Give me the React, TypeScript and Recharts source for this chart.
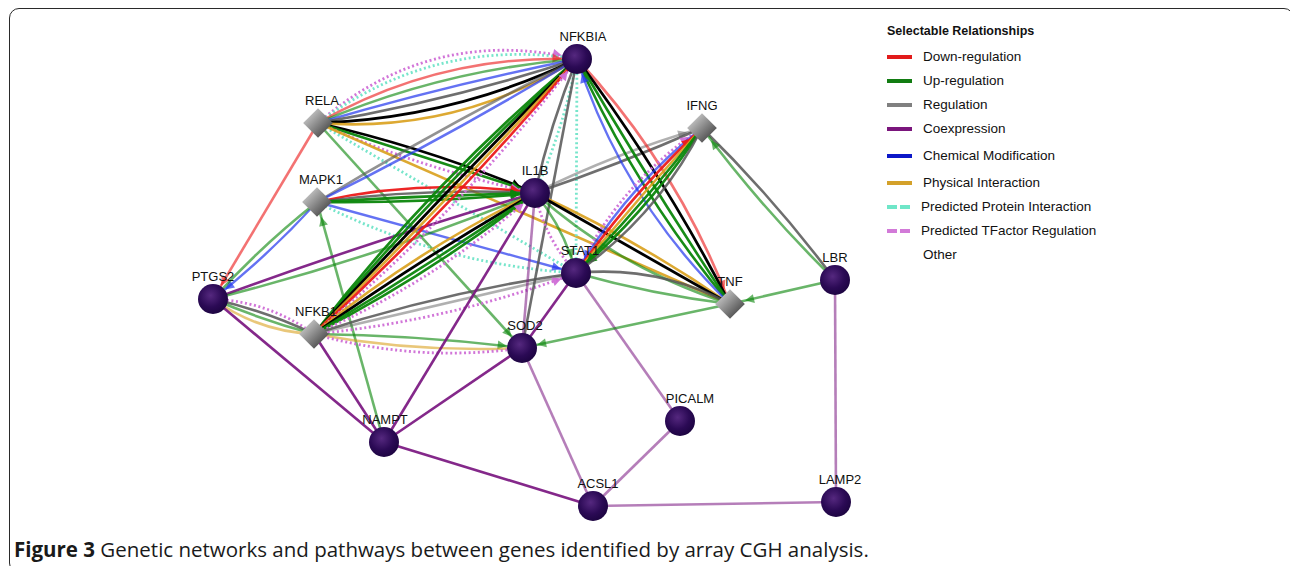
import React from 'react';
import { ScatterChart, Scatter, XAxis, YAxis, ReferenceLine, Legend } from 'recharts';

const W = 1290;
const H = 566;

// gene layout, in network coordinates
const genes = ['NFKBIA', 'RELA', 'IFNG', 'MAPK1', 'IL1B', 'STAT1', 'PTGS2', 'NFKB1', 'SOD2', 'TNF', 'LBR', 'NAMPT', 'PICALM', 'ACSL1', 'LAMP2'];
const geneX = [577, 318, 702, 317, 535, 576, 213, 314, 522, 730, 835, 384, 680, 593, 836];
const geneY = [59, 123, 128, 202, 193, 273, 299, 334, 348, 304, 280, 442, 421, 506, 502];
const diamondGenes = ['RELA', 'IFNG', 'MAPK1', 'NFKB1', 'TNF'];

// relationships: from, to, relation, confidence, directed
type Edge = [string, string, string, number, boolean];
const edges: Edge[] = [
  ['RELA', 'NFKBIA', 'tf', 1, true],
  ['RELA', 'NFKBIA', 'ppi', 1, false],
  ['RELA', 'NFKBIA', 'down', 0.6, true],
  ['RELA', 'NFKBIA', 'up', 0.6, false],
  ['RELA', 'NFKBIA', 'chem', 1, false],
  ['RELA', 'NFKBIA', 'reg', 1, false],
  ['RELA', 'NFKBIA', 'other', 1, false],
  ['RELA', 'NFKBIA', 'phys', 1, false],
  ['RELA', 'PTGS2', 'down', 0.6, true],
  ['RELA', 'IL1B', 'other', 1, true],
  ['RELA', 'IL1B', 'up', 1, true],
  ['RELA', 'IL1B', 'tf', 1, true],
  ['RELA', 'SOD2', 'up', 0.6, true],
  ['RELA', 'STAT1', 'ppi', 1, false],
  ['RELA', 'TNF', 'phys', 1, false],
  ['MAPK1', 'NFKBIA', 'reg', 0.7, false],
  ['MAPK1', 'NFKBIA', 'chem', 1, false],
  ['MAPK1', 'IL1B', 'down', 1, true],
  ['MAPK1', 'IL1B', 'reg', 1, false],
  ['MAPK1', 'IL1B', 'up', 1, true],
  ['MAPK1', 'IL1B', 'up', 1, true],
  ['MAPK1', 'STAT1', 'chem', 1, true],
  ['MAPK1', 'STAT1', 'ppi', 1, false],
  ['MAPK1', 'PTGS2', 'chem', 1, true],
  ['MAPK1', 'PTGS2', 'up', 0.6, false],
  ['NAMPT', 'MAPK1', 'up', 0.6, true],
  ['PTGS2', 'IL1B', 'coex', 1, false],
  ['PTGS2', 'IL1B', 'up', 0.6, false],
  ['PTGS2', 'NFKB1', 'tf', 1, false],
  ['PTGS2', 'NFKB1', 'reg', 1, false],
  ['PTGS2', 'NFKB1', 'up', 0.6, false],
  ['PTGS2', 'NFKB1', 'phys', 0.6, false],
  ['PTGS2', 'NAMPT', 'coex', 1, false],
  ['NFKB1', 'NFKBIA', 'up', 1, false],
  ['NFKB1', 'NFKBIA', 'up', 1, false],
  ['NFKB1', 'NFKBIA', 'other', 1, false],
  ['NFKB1', 'NFKBIA', 'phys', 1, false],
  ['NFKB1', 'NFKBIA', 'down', 1, false],
  ['NFKB1', 'NFKBIA', 'tf', 1, true],
  ['NFKB1', 'IL1B', 'phys', 1, false],
  ['NFKB1', 'IL1B', 'other', 1, false],
  ['NFKB1', 'IL1B', 'up', 1, false],
  ['NFKB1', 'IL1B', 'up', 1, false],
  ['NFKB1', 'IL1B', 'tf', 1, true],
  ['NFKB1', 'STAT1', 'reg', 1, false],
  ['NFKB1', 'STAT1', 'reg', 0.5, false],
  ['NFKB1', 'STAT1', 'tf', 1, true],
  ['NFKB1', 'SOD2', 'up', 0.6, true],
  ['NFKB1', 'SOD2', 'phys', 0.6, false],
  ['NFKB1', 'SOD2', 'tf', 1, false],
  ['NFKB1', 'NAMPT', 'coex', 1, false],
  ['IL1B', 'NFKBIA', 'reg', 1, false],
  ['IL1B', 'NFKBIA', 'ppi', 1, false],
  ['SOD2', 'NFKBIA', 'reg', 1, false],
  ['STAT1', 'NFKBIA', 'ppi', 1, false],
  ['IL1B', 'IFNG', 'reg', 0.5, true],
  ['IL1B', 'IFNG', 'reg', 1, false],
  ['IL1B', 'STAT1', 'up', 0.6, true],
  ['IL1B', 'STAT1', 'tf', 1, false],
  ['IL1B', 'TNF', 'phys', 1, false],
  ['IL1B', 'TNF', 'other', 1, false],
  ['IL1B', 'TNF', 'up', 0.6, false],
  ['IL1B', 'SOD2', 'coex', 0.55, false],
  ['IL1B', 'NAMPT', 'coex', 1, false],
  ['NFKBIA', 'TNF', 'down', 0.6, true],
  ['NFKBIA', 'TNF', 'other', 1, false],
  ['NFKBIA', 'TNF', 'up', 1, false],
  ['NFKBIA', 'TNF', 'up', 1, false],
  ['TNF', 'NFKBIA', 'chem', 1, true],
  ['STAT1', 'IFNG', 'tf', 1, true],
  ['IFNG', 'STAT1', 'chem', 1, true],
  ['STAT1', 'IFNG', 'down', 1, true],
  ['STAT1', 'IFNG', 'phys', 1, false],
  ['IFNG', 'STAT1', 'up', 1, true],
  ['IFNG', 'STAT1', 'up', 1, true],
  ['STAT1', 'IFNG', 'reg', 1, false],
  ['STAT1', 'TNF', 'reg', 1, false],
  ['STAT1', 'TNF', 'up', 0.6, false],
  ['STAT1', 'SOD2', 'coex', 1, false],
  ['STAT1', 'PICALM', 'coex', 0.55, false],
  ['IFNG', 'LBR', 'reg', 1, false],
  ['LBR', 'IFNG', 'up', 0.6, true],
  ['TNF', 'SOD2', 'up', 0.6, true],
  ['LBR', 'TNF', 'up', 0.6, true],
  ['SOD2', 'NAMPT', 'coex', 1, false],
  ['SOD2', 'ACSL1', 'coex', 0.55, false],
  ['NAMPT', 'ACSL1', 'coex', 1, false],
  ['PICALM', 'ACSL1', 'coex', 0.55, false],
  ['ACSL1', 'LAMP2', 'coex', 0.55, false],
  ['LBR', 'LAMP2', 'coex', 0.55, false],
];

const legendTitle = 'Selectable Relationships';
const legendKeys = ['down', 'up', 'reg', 'coex', 'chem', 'phys', 'ppi', 'tf', 'other'];
const legendLabels = [
  'Down-regulation',
  'Up-regulation',
  'Regulation',
  'Coexpression',
  'Chemical Modification',
  'Physical Interaction',
  'Predicted Protein Interaction',
  'Predicted TFactor Regulation',
  'Other',
];

// ---- styles ----
const relStyle: Record<string, { stroke: string; width: number; opacity: number; dash?: string }> = {
  down: { stroke: '#ec1a1a', width: 2.6, opacity: 0.95 },
  up: { stroke: '#0b860b', width: 2.6, opacity: 0.95 },
  reg: { stroke: '#555555', width: 2.6, opacity: 0.85 },
  coex: { stroke: '#7a1680', width: 2.6, opacity: 0.92 },
  chem: { stroke: '#2236ee', width: 2.4, opacity: 0.7 },
  phys: { stroke: '#d9a01c', width: 2.6, opacity: 0.9 },
  ppi: { stroke: '#70e4c8', width: 2.8, opacity: 0.95, dash: '2 2.6' },
  tf: { stroke: '#cf6ed6', width: 2.8, opacity: 0.95, dash: '2 2.6' },
  other: { stroke: '#000000', width: 2.8, opacity: 1 },
};
const swatchColor: Record<string, string> = {
  down: '#e21b1b',
  up: '#127c12',
  reg: '#808080',
  coex: '#7a157c',
  chem: '#0c18c8',
  phys: '#d4a12a',
  ppi: '#6fe6c8',
  tf: '#d27ad8',
};
const rowGap = [25, 24, 24, 24, 29, 25, 24, 24, 24];

// curvature (px at mid-edge) for each parallel bundle, in listed order
const pairBend: Record<string, number[]> = {
  'RELA|NFKBIA': [34, 28, 19, 11, 3, -5, -14, -22],
  'NFKB1|NFKBIA': [10, 6, 2, -2, -6, -11],
  'NFKB1|IL1B': [8, 3, -2, -6, -11],
  'NFKB1|STAT1': [6, 0, -9],
  'NFKB1|SOD2': [3, -6, -11],
  'PTGS2|NFKB1': [8, 3, -2, -8],
  'MAPK1|IL1B': [10, 5, 1, -3],
  'MAPK1|NFKBIA': [3, -3],
  'MAPK1|STAT1': [0, -14],
  'MAPK1|PTGS2': [3, -3],
  'RELA|IL1B': [5, 0, -6],
  'PTGS2|IL1B': [3, -6],
  'IL1B|NFKBIA': [3, -4],
  'IL1B|IFNG': [4, -2],
  'IL1B|STAT1': [5, -6],
  'IL1B|TNF': [5, 0, -12],
  'NFKBIA|TNF': [14, 6, -2, -10, -18],
  'STAT1|IFNG': [13, 9, 5, 1, -3, -7, -12],
  'STAT1|TNF': [12, -3],
  'IFNG|LBR': [4, -4],
};
const labelShift: Record<string, number> = {
  NFKBIA: 6, RELA: 4, MAPK1: 4, STAT1: 4, NFKB1: 2, SOD2: 3, NAMPT: 1, PICALM: 10, ACSL1: 5, LAMP2: 4,
};

const nodes = genes.map((name, i) => ({
  name,
  x: geneX[i],
  y: geneY[i],
  kind: diamondGenes.includes(name) ? 'diamond' : 'circle',
}));
const pos = (name: string) => nodes.find((n) => n.name === name)!;

// group parallel edges by pair, first listed direction is the reference direction
const pairOrder: Record<string, string> = {};
const pairCount: Record<string, number> = {};
const edgeDraw = edges.map(([from, to, rel, w, directed]) => {
  const k1 = `${from}|${to}`;
  const k2 = `${to}|${from}`;
  const key = pairOrder[k1] ? k1 : pairOrder[k2] ? k2 : k1;
  pairOrder[key] = key;
  const idx = pairCount[key] ?? 0;
  pairCount[key] = idx + 1;
  const [a, b] = key.split('|');
  return { a, b, rel, w, arrowAtB: directed && to === b, arrowAtA: directed && to === a, key, idx, bend: 0 };
});
edgeDraw.forEach((e) => {
  const n = pairCount[e.key];
  const list = pairBend[e.key];
  e.bend = list ? list[e.idx] ?? 0 : ((n - 1) / 2 - e.idx) * 5;
});

const arrowHead = (tx: number, ty: number, fx: number, fy: number, color: string, op: number) => {
  const dx = tx - fx;
  const dy = ty - fy;
  const len = Math.hypot(dx, dy) || 1;
  const ux = dx / len;
  const uy = dy / len;
  const tipX = tx - ux * 15.5;
  const tipY = ty - uy * 15.5;
  const bx = tipX - ux * 9;
  const by = tipY - uy * 9;
  const pts = `${tipX},${tipY} ${bx - uy * 4.5},${by + ux * 4.5} ${bx + uy * 4.5},${by - ux * 4.5}`;
  return <polygon points={pts} fill={color} fillOpacity={op} />;
};

const makeEdgeShape = (e: (typeof edgeDraw)[number]) => (p: any) => {
  const { x1, y1, x2, y2 } = p;
  const st = relStyle[e.rel];
  const dx = x2 - x1;
  const dy = y2 - y1;
  const len = Math.hypot(dx, dy) || 1;
  const nx = dy / len;
  const ny = -dx / len;
  const cx = (x1 + x2) / 2 + nx * 2 * e.bend;
  const cy = (y1 + y2) / 2 + ny * 2 * e.bend;
  const op = st.opacity * (e.w < 1 ? e.w + 0.05 : 1);
  return (
    <g>
      <path
        d={`M${x1},${y1} Q${cx},${cy} ${x2},${y2}`}
        fill="none"
        stroke={st.stroke}
        strokeWidth={st.width}
        strokeOpacity={op}
        strokeDasharray={st.dash}
      />
      {e.arrowAtB && arrowHead(x2, y2, cx, cy, st.stroke, op)}
      {e.arrowAtA && arrowHead(x1, y1, cx, cy, st.stroke, op)}
    </g>
  );
};

const renderGene = (props: any) => {
  const { cx, cy, payload } = props;
  const dx = labelShift[payload.name] ?? 0;
  return (
    <g>
      <defs>
        <radialGradient id="geneFill" cx="0.42" cy="0.38" r="0.65">
          <stop offset="0" stopColor="#55287f" />
          <stop offset="0.6" stopColor="#2b0a55" />
          <stop offset="1" stopColor="#1c0440" />
        </radialGradient>
        <linearGradient id="diamondFill" x1="0" y1="0" x2="1" y2="0">
          <stop offset="0" stopColor="#b8b8b8" />
          <stop offset="1" stopColor="#5a5a5a" />
        </linearGradient>
      </defs>
      {payload.kind === 'diamond' ? (
        <rect
          x={cx - 10.5}
          y={cy - 10.5}
          width={21}
          height={21}
          fill="url(#diamondFill)"
          transform={`rotate(45 ${cx} ${cy})`}
        />
      ) : (
        <circle cx={cx} cy={cy} r={15} fill="url(#geneFill)" />
      )}
      <text x={cx + dx} y={cy - 18} textAnchor="middle" fontSize={13} fill="#111">
        {payload.name}
      </text>
    </g>
  );
};

const renderLegend = () => (
  <div style={{ fontFamily: '"Liberation Sans", Arial, sans-serif', color: '#111' }}>
    <div style={{ fontWeight: 'bold', fontSize: 12.5, height: 26, lineHeight: '26px' }}>{legendTitle}</div>
    {legendKeys.map((k, i) => {
      const dashed = relStyle[k].dash;
      return (
        <div key={k} style={{ position: 'relative', height: rowGap[i], lineHeight: `${rowGap[i]}px`, fontSize: 13.5 }}>
          {swatchColor[k] && !dashed && (
            <span style={{ position: 'absolute', left: 0, top: rowGap[i] / 2 - 2, width: 25, height: 4, background: swatchColor[k] }} />
          )}
          {dashed && (
            <>
              <span style={{ position: 'absolute', left: 0, top: rowGap[i] / 2 - 2, width: 10, height: 4, background: swatchColor[k] }} />
              <span style={{ position: 'absolute', left: 13, top: rowGap[i] / 2 - 2, width: 10, height: 4, background: swatchColor[k] }} />
            </>
          )}
          <span style={{ position: 'absolute', left: dashed ? 34 : 36, top: 0, whiteSpace: 'nowrap' }}>{legendLabels[i]}</span>
        </div>
      );
    })}
  </div>
);

export default function App() {
  return (
    <div style={{ position: 'relative', width: W, height: H, overflow: 'hidden', background: '#fff' }}>
      <style>{'body{margin:0;overflow:hidden}'}</style>
      <div
        style={{
          position: 'absolute',
          left: 9,
          top: 8,
          width: 1285,
          height: 565,
          border: '1.6px solid #2a2a2a',
          borderRadius: 10,
          boxSizing: 'border-box',
        }}
      />
      <div style={{ position: 'absolute', left: 0, top: 0 }}>
        <ScatterChart
          width={W}
          height={H}
          margin={{ top: 0, right: 0, bottom: 0, left: 0 }}
          style={{ fontFamily: '"Liberation Sans", Arial, sans-serif' }}
        >
          <XAxis type="number" dataKey="x" domain={[0, W]} allowDataOverflow hide />
          <YAxis type="number" dataKey="y" domain={[0, H]} allowDataOverflow reversed hide />
          {edgeDraw.map((e, i) => {
            const A = pos(e.a);
            const B = pos(e.b);
            return (
              <ReferenceLine
                key={i}
                segment={[
                  { x: A.x, y: A.y },
                  { x: B.x, y: B.y },
                ]}
                ifOverflow="visible"
                shape={makeEdgeShape(e)}
              />
            );
          })}
          <Scatter data={nodes} shape={renderGene} isAnimationActive={false} />
          <Legend
            layout="horizontal"
            verticalAlign="middle"
            align="center"
            content={renderLegend}
            wrapperStyle={{ left: 887, top: 18, width: 300, height: 260 }}
          />
        </ScatterChart>
      </div>
      <div
        style={{
          position: 'absolute',
          left: 14,
          top: 535,
          fontFamily: '"Open Sans", sans-serif',
          fontSize: 20.5,
          color: '#1a1a1a',
          whiteSpace: 'nowrap',
        }}
      >
        <b>Figure 3</b> Genetic networks and pathways between genes identified by array CGH analysis.
      </div>
    </div>
  );
}
